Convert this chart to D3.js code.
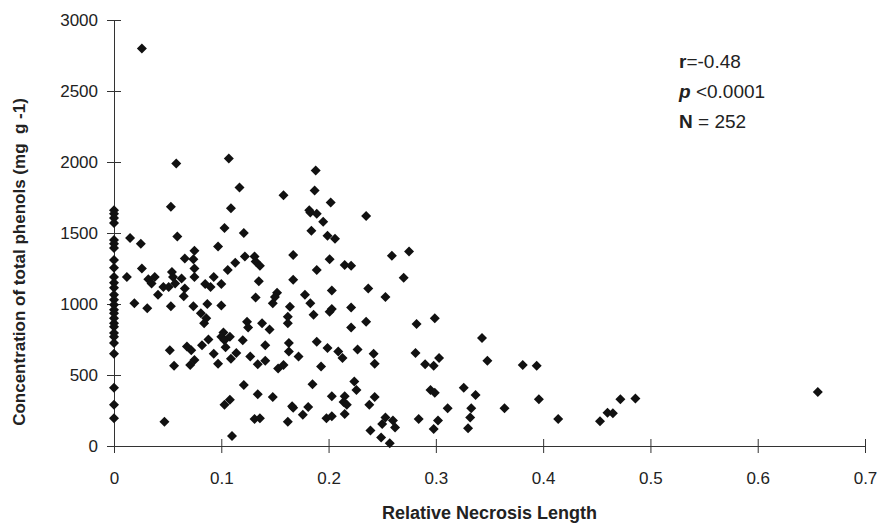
<!DOCTYPE html>
<html>
<head>
<meta charset="utf-8">
<script src="https://cdn.jsdelivr.net/npm/d3@7"></script>
<style>
  body { margin: 0; background: #fff; }
  svg { font-family: "Liberation Sans", Arial, sans-serif; }
  .axis path, .axis line { stroke: #333; }
  .axis text { fill: #222; font-size: 17px; }
</style>
</head>
<body>
<svg id="chart" width="879" height="526"></svg>
<script>
// phenol readings for leaves with no necrosis (x = 0)
var phenolsAtZero = [1660, 1635, 1605, 1570, 1450, 1425, 1395, 1310, 1255, 1190, 1150, 1115,
  1065, 1030, 995, 960, 935, 900, 865, 840, 795, 770, 725, 650, 410, 290, 195];

// [relative necrosis length, total phenols]
var samples = [
  [0.026, 2800],
  [0.058, 1990], [0.107, 2025], [0.117, 1820], [0.053, 1685], [0.109, 1675], [0.015, 1465],
  [0.025, 1425], [0.059, 1475], [0.103, 1535], [0.121, 1500], [0.097, 1405], [0.075, 1375],
  [0.066, 1320], [0.074, 1315], [0.122, 1335], [0.113, 1290], [0.106, 1240], [0.026, 1250],
  [0.075, 1250], [0.054, 1225], [0.012, 1190], [0.032, 1175], [0.038, 1190], [0.035, 1145],
  [0.055, 1190], [0.063, 1180], [0.057, 1145], [0.075, 1190], [0.093, 1190], [0.085, 1140],
  [0.090, 1120], [0.100, 1140], [0.046, 1120], [0.051, 1120], [0.066, 1110], [0.041, 1065],
  [0.065, 1055],
  [0.019, 1005], [0.031, 970], [0.053, 985], [0.074, 985], [0.087, 1000], [0.100, 990],
  [0.081, 935], [0.086, 900], [0.084, 865], [0.124, 875], [0.125, 835], [0.102, 800],
  [0.100, 770], [0.108, 770], [0.103, 745], [0.120, 745], [0.088, 750], [0.082, 710],
  [0.068, 700], [0.072, 675], [0.075, 605], [0.071, 570], [0.052, 675], [0.104, 695],
  [0.093, 650], [0.114, 655], [0.109, 615], [0.097, 580], [0.127, 630], [0.056, 565],
  [0.121, 430], [0.108, 325], [0.103, 290], [0.047, 170], [0.110, 70],
  [0.188, 1940], [0.187, 1800], [0.158, 1765], [0.202, 1715], [0.182, 1660], [0.183, 1645],
  [0.189, 1635], [0.195, 1580], [0.235, 1620], [0.184, 1515], [0.199, 1480], [0.206, 1460],
  [0.131, 1335], [0.132, 1300], [0.136, 1270], [0.167, 1345], [0.201, 1315], [0.259, 1340],
  [0.189, 1240], [0.215, 1275], [0.221, 1270], [0.135, 1160], [0.167, 1170], [0.237, 1110],
  [0.203, 1095], [0.253, 1050], [0.152, 1080], [0.150, 1050], [0.178, 1065], [0.132, 1045],
  [0.148, 1005], [0.183, 1005], [0.164, 980], [0.162, 910], [0.162, 865], [0.186, 925],
  [0.201, 945], [0.203, 965], [0.221, 975], [0.235, 875], [0.221, 835], [0.138, 865],
  [0.145, 820], [0.141, 710], [0.134, 575], [0.141, 600], [0.163, 725], [0.163, 665],
  [0.172, 630], [0.189, 735], [0.199, 690], [0.209, 665], [0.213, 620], [0.227, 680],
  [0.242, 650], [0.243, 580], [0.193, 560], [0.153, 545], [0.158, 570], [0.185, 435],
  [0.134, 365], [0.148, 345], [0.166, 280], [0.167, 270], [0.181, 275], [0.176, 220],
  [0.162, 170], [0.131, 190], [0.136, 195], [0.203, 350], [0.215, 350], [0.214, 310],
  [0.217, 290], [0.224, 455], [0.226, 395], [0.243, 345], [0.238, 290], [0.215, 225],
  [0.198, 195], [0.203, 210], [0.253, 200], [0.250, 155], [0.260, 180], [0.262, 130],
  [0.239, 110], [0.249, 60], [0.257, 20],
  [0.275, 1370], [0.270, 1185], [0.282, 860], [0.299, 900], [0.281, 655], [0.290, 575],
  [0.298, 565], [0.303, 620], [0.343, 760], [0.348, 600], [0.381, 570], [0.394, 565],
  [0.295, 395], [0.299, 375], [0.326, 410], [0.337, 360], [0.311, 265], [0.333, 265],
  [0.332, 200], [0.330, 125], [0.364, 265], [0.396, 330], [0.284, 190], [0.302, 180],
  [0.298, 120], [0.414, 190], [0.453, 175], [0.460, 235], [0.465, 230], [0.472, 330],
  [0.486, 335], [0.656, 380]
];

var xTicks = [0, 0.1, 0.2, 0.3, 0.4, 0.5, 0.6, 0.7];
var yTicks = [0, 500, 1000, 1500, 2000, 2500, 3000];

var svg = d3.select("svg#chart"),
    margin = {top: 20, right: 14, bottom: 80, left: 114},
    width = +svg.attr("width") - margin.left - margin.right,
    height = +svg.attr("height") - margin.top - margin.bottom,
    g = svg.append("g").attr("transform", "translate(" + margin.left + "," + margin.top + ")");

var x = d3.scaleLinear().domain([0, 0.7]).range([0, width]);
var y = d3.scaleLinear().domain([0, 3000]).range([height, 0]);

var data = phenolsAtZero.map(function(v) { return [0, v]; }).concat(samples);

// axes, ticks cross the axis line like the excel original
var yAxis = g.append("g")
    .attr("class", "axis")
    .call(d3.axisLeft(y).tickValues(yTicks).tickSize(7).tickSizeOuter(0).tickPadding(9)
      .tickFormat(d3.format("d")));
yAxis.selectAll(".tick line").attr("x1", 7);

var xAxis = g.append("g")
    .attr("class", "axis")
    .attr("transform", "translate(0," + height + ")")
    .call(d3.axisBottom(x).tickValues(xTicks).tickSize(7).tickSizeOuter(0).tickPadding(19)
      .tickFormat(function(d) { return d === 0 ? "0" : d3.format(".1f")(d); }));
xAxis.selectAll(".tick line").attr("y1", -7);

g.selectAll(".pt")
    .data(data)
  .enter().append("path")
    .attr("class", "pt")
    .attr("d", d3.symbol().type(d3.symbolSquare).size(50))
    .attr("transform", function(d) { return "translate(" + x(d[0]) + "," + y(d[1]) + ") rotate(45)"; })
    .attr("fill", "#111");

svg.append("text")
    .attr("x", margin.left + width / 2)
    .attr("y", 519)
    .attr("text-anchor", "middle")
    .attr("font-weight", "bold")
    .attr("font-size", 18)
    .attr("fill", "#222")
    .text("Relative Necrosis Length");

svg.append("text")
    .attr("transform", "translate(25,262) rotate(-90)")
    .attr("text-anchor", "middle")
    .attr("font-weight", "bold")
    .attr("font-size", 17)
    .attr("fill", "#222")
    .style("white-space", "pre")
    .text("Concentration of total phenols (mg  g -1)");

// stats box
var stats = svg.append("text")
    .attr("x", 679)
    .attr("font-size", 19)
    .attr("fill", "#222");
var l1 = stats.append("tspan").attr("x", 679).attr("y", 68);
l1.append("tspan").attr("font-weight", "bold").text("r");
l1.append("tspan").text("=-0.48");
var l2 = stats.append("tspan").attr("x", 679).attr("y", 98);
l2.append("tspan").attr("font-weight", "bold").attr("font-style", "italic").text("p");
l2.append("tspan").text(" <0.0001");
var l3 = stats.append("tspan").attr("x", 679).attr("y", 128);
l3.append("tspan").attr("font-weight", "bold").text("N");
l3.append("tspan").text(" = 252");
</script>
</body>
</html>
